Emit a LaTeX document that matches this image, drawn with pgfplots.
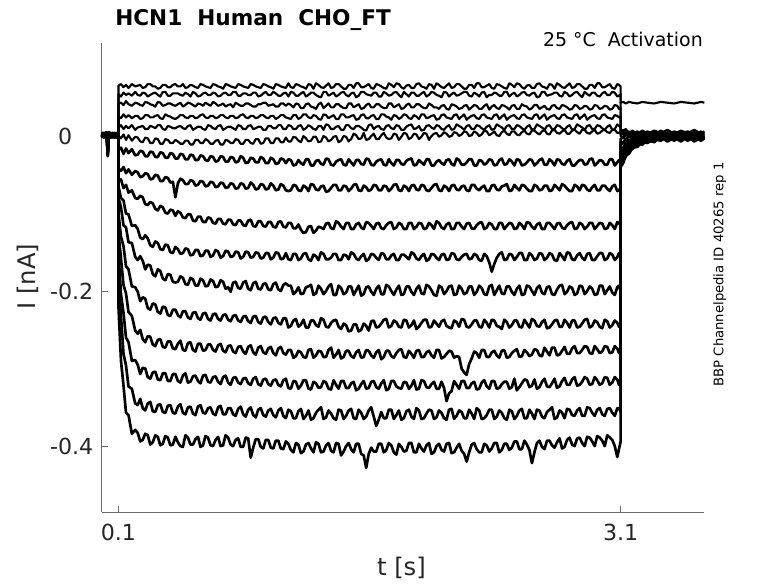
\documentclass[border=0pt]{standalone}
\usepackage{pgfplots}
\pgfplotsset{compat=1.18}
\usepackage{pgfplotstable}
\usepackage{fontspec}
\setmainfont{DejaVu Sans}
\definecolor{axisgray}{RGB}{105,105,105}
\definecolor{labelgray}{RGB}{38,38,38}

% current in pA, time in s
\pgfplotstableread{
t y1 y2 y3 y4 y5 y6 y7 y8 y9 y10 y11 y12 y13 y14 y15 y16
0.000 2 -1 3 0 -2 1 4 -1 2 0 3 -2 1 5 -1 2
0.012 -1 3 0 4 2 -2 1 3 -1 4 0 2 -2 1 3 0
0.024 3 0 -2 1 5 2 -1 0 4 1 -2 3 2 -1 0 4
0.030 0 2 4 -1 1 3 2 -2 1 3 5 0 -1 2 4 1
0.036 -8 -12 -6 -18 -22 -15 -25 -20 -10 -24 -17 -26 -14 -21 -19 -23
0.042 1 -2 3 2 -1 0 4 1 -2 3 0 2 5 -1 1 3
0.054 4 1 -1 3 0 2 -2 4 1 -1 2 0 3 1 -2 0
0.066 -2 3 1 0 4 -1 2 0 3 2 -1 4 0 3 1 -2
0.078 1 0 4 -2 2 3 0 2 -1 0 4 1 -2 2 3 1
0.090 3 -1 0 2 -1 1 3 -2 2 4 0 -1 2 0 -1 3
0.100 0 2 1 1 2 0 1 2 0 1 2 1 0 1 2 0
0.100 65 54 42 25 11 0 -18 -42 -57 -65 -80 -100 -125 -150 -180 -220
0.115 67 51 43 23 14 -3 -15 -45 -56 -80 -92 -130 -158 -204 -232 -290
0.130 63 56 40 28 9 2 -23 -40 -67 -83 -115 -142 -192 -228 -281 -322
0.145 66 53 45 24 13 -5 -16 -48 -63 -100 -118 -168 -203 -260 -296 -357
0.160 62 55 41 27 10 1 -22 -43 -73 -101 -137 -172 -227 -266 -323 -360
0.180 67 52 39 23 14 -6 -17 -50 -70 -116 -138 -194 -232 -290 -326 -384
0.200 64 57 43 26 8 -1 -25 -45 -80 -115 -156 -195 -251 -289 -345 -379
0.215 65 53 42 26 11 -2 -24 -47 -81 -120 -160 -201 -255 -295 -347 -383
0.230 66 52 40 22 12 -7 -19 -53 -77 -131 -155 -213 -250 -307 -339 -394
0.245 62 56 39 23 13 -8 -20 -52 -79 -133 -161 -208 -262 -299 -351 -392
0.260 63 55 44 27 9 -2 -26 -48 -88 -128 -172 -210 -266 -300 -354 -384
0.275 67 51 43 27 9 -3 -26 -49 -89 -132 -166 -222 -258 -311 -345 -386
0.290 67 53 41 24 13 -9 -20 -56 -85 -141 -167 -224 -259 -313 -343 -398
0.305 64 55 40 24 12 -9 -21 -55 -87 -143 -178 -216 -269 -305 -355 -395
0.320 64 56 38 26 10 -3 -27 -50 -94 -136 -181 -217 -271 -304 -356 -386
0.335 61 53 44 27 14 -4 -27 -51 -96 -138 -172 -227 -263 -314 -347 -388
0.350 62 51 43 23 14 -10 -21 -58 -90 -146 -174 -229 -262 -315 -346 -399
0.365 66 57 39 22 9 -10 -22 -58 -92 -147 -184 -220 -272 -306 -356 -397
0.380 66 57 40 28 8 -4 -28 -53 -99 -140 -186 -221 -273 -306 -357 -387
0.395 63 52 42 26 13 -5 -28 -54 -100 -141 -178 -231 -265 -316 -348 -389
0.410 63 52 42 25 12 -9 -22 -60 -95 -150 -179 -232 -265 -316 -347 -399
0.425 66 55 40 23 10 -9 -23 -59 -96 -151 -188 -224 -274 -307 -357 -398
0.440 67 55 39 22 10 -5 -29 -79 -103 -143 -189 -224 -275 -307 -358 -388
0.455 64 55 41 24 12 -7 -29 -61 -97 -146 -188 -231 -268 -316 -349 -395
0.470 64 53 43 27 13 -10 -23 -55 -99 -152 -181 -234 -264 -318 -346 -400
0.485 67 52 38 27 10 -10 -24 -57 -105 -151 -183 -226 -276 -309 -357 -401
0.500 62 56 40 24 9 -6 -30 -62 -106 -145 -191 -226 -277 -306 -359 -386
0.515 63 54 43 23 13 -6 -30 -62 -101 -146 -192 -234 -267 -318 -350 -389
0.530 66 51 42 26 14 -11 -24 -57 -101 -154 -183 -236 -266 -317 -349 -398
0.545 65 57 40 26 8 -11 -25 -58 -109 -153 -185 -228 -276 -310 -358 -398
0.560 63 55 38 23 10 -5 -31 -64 -110 -147 -193 -227 -278 -309 -360 -391
0.575 62 51 42 24 12 -5 -31 -63 -104 -147 -193 -235 -268 -316 -349 -388
0.590 67 52 41 27 12 -9 -25 -58 -104 -155 -184 -237 -268 -319 -347 -401
0.605 66 55 39 28 9 -9 -26 -59 -111 -154 -186 -229 -277 -309 -357 -399
0.620 64 56 43 24 8 -4 -31 -65 -111 -148 -194 -228 -276 -308 -358 -387
0.635 63 53 41 23 14 -6 -32 -64 -105 -148 -193 -236 -269 -317 -351 -389
0.650 62 53 39 26 13 -10 -26 -59 -106 -156 -185 -238 -269 -318 -350 -399
0.665 67 56 44 26 10 -10 -27 -60 -112 -154 -187 -230 -276 -311 -358 -400
0.680 66 55 42 23 9 -6 -33 -66 -113 -147 -195 -229 -278 -310 -360 -392
0.695 64 51 39 24 13 -5 -32 -65 -107 -149 -194 -236 -270 -317 -350 -388
0.710 63 52 40 27 14 -11 -26 -60 -107 -157 -186 -238 -268 -320 -348 -400
0.725 61 55 42 27 8 -11 -27 -61 -113 -155 -188 -231 -277 -311 -359 -399
0.740 67 56 38 24 10 -5 -33 -67 -114 -148 -197 -230 -279 -309 -359 -386
0.755 66 53 40 23 12 -6 -33 -66 -108 -149 -195 -237 -271 -318 -351 -389
0.770 64 53 41 26 12 -9 -27 -61 -108 -156 -201 -239 -270 -321 -351 -398
0.785 63 57 37 26 10 -9 -28 -62 -114 -155 -189 -232 -278 -312 -359 -400
0.800 62 57 43 23 8 -4 -34 -68 -115 -149 -188 -231 -280 -311 -361 -392
0.815 67 52 41 24 14 -5 -33 -67 -109 -150 -196 -238 -272 -318 -352 -390
0.830 66 52 39 27 13 -10 -26 -61 -109 -158 -197 -240 -271 -320 -349 -401
0.845 64 55 39 28 9 -10 -28 -62 -115 -156 -189 -233 -278 -313 -359 -401
0.860 63 55 42 24 9 -5 -35 -68 -116 -149 -187 -232 -281 -312 -362 -389
0.875 62 53 42 23 13 -5 -34 -67 -109 -150 -197 -239 -272 -319 -353 -390
0.890 67 53 40 26 14 -9 -28 -60 -108 -157 -199 -241 -270 -321 -350 -415
0.905 66 56 38 26 9 -10 -29 -63 -116 -156 -190 -233 -279 -313 -360 -402
0.920 64 56 38 23 10 -4 -34 -69 -117 -150 -188 -232 -282 -311 -363 -391
0.935 63 51 41 24 12 -4 -34 -68 -110 -151 -197 -240 -273 -320 -353 -391
0.950 62 52 41 27 12 -10 -27 -62 -110 -158 -198 -242 -271 -322 -351 -401
0.965 67 55 43 27 8 -9 -29 -63 -116 -157 -191 -234 -279 -314 -360 -403
0.980 66 57 43 24 8 -3 -35 -69 -117 -151 -190 -233 -281 -313 -362 -392
0.995 64 53 39 23 13 -3 -35 -68 -111 -151 -198 -240 -274 -320 -354 -392
1.010 63 53 40 26 13 -9 -28 -61 -111 -159 -199 -243 -272 -322 -352 -402
1.025 61 57 41 26 10 -9 -30 -64 -117 -157 -191 -235 -280 -315 -360 -403
1.040 67 55 38 22 10 -3 -36 -70 -118 -150 -189 -234 -283 -314 -363 -393
1.055 66 52 38 24 14 -3 -35 -69 -111 -151 -198 -241 -274 -321 -354 -393
1.070 64 52 42 27 14 -8 -29 -62 -110 -159 -200 -243 -272 -323 -351 -403
1.085 63 55 42 27 9 -8 -30 -64 -117 -158 -192 -235 -280 -315 -361 -404
1.100 62 56 39 24 9 -2 -35 -70 -118 -151 -190 -235 -282 -313 -364 -394
1.115 68 51 42 23 14 -7 -30 -71 -112 -159 -193 -247 -276 -325 -353 -397
1.130 63 57 40 22 13 -7 -31 -70 -112 -160 -193 -245 -276 -326 -355 -405
1.145 62 56 37 27 9 -1 -38 -63 -119 -152 -204 -238 -286 -316 -364 -408
1.160 67 52 42 27 9 -2 -37 -64 -119 -152 -201 -236 -284 -317 -364 -396
1.175 66 52 41 22 13 -6 -31 -70 -114 -160 -195 -246 -277 -326 -355 -398
1.190 64 55 36 24 14 -8 -35 -71 -121 -158 -204 -243 -279 -322 -352 -409
1.205 63 57 36 28 8 0 -37 -64 -125 -152 -203 -237 -285 -315 -365 -407
1.220 61 51 41 28 10 -3 -30 -66 -124 -151 -195 -247 -286 -315 -361 -398
1.235 67 53 42 24 14 -7 -30 -71 -117 -159 -194 -247 -276 -326 -354 -396
1.250 66 56 38 23 12 -6 -38 -62 -116 -161 -192 -238 -275 -327 -366 -403
1.265 61 56 37 27 9 -1 -38 -63 -125 -153 -205 -238 -286 -317 -364 -408
1.280 68 53 35 26 8 -1 -32 -69 -122 -155 -203 -244 -283 -319 -357 -395
1.295 66 51 41 22 13 -8 -31 -70 -117 -160 -193 -246 -277 -325 -353 -397
1.310 63 50 43 21 13 -7 -36 -65 -118 -150 -197 -235 -278 -324 -350 -408
1.325 62 57 36 28 8 0 -37 -64 -120 -152 -204 -237 -285 -316 -365 -407
1.340 65 57 39 27 15 -2 -29 -72 -113 -159 -200 -246 -285 -318 -363 -399
1.355 68 52 42 23 14 -7 -30 -71 -112 -159 -194 -247 -276 -326 -354 -396
1.370 62 54 37 25 9 -5 -37 -67 -119 -157 -191 -241 -273 -327 -358 -406
1.385 63 56 37 27 9 -1 -38 -63 -120 -152 -205 -238 -286 -315 -364 -408
1.400 67 51 41 22 12 0 -33 -63 -110 -152 -205 -237 -282 -321 -366 -396
1.415 67 53 41 22 13 -8 -31 -70 -112 -160 -193 -246 -276 -326 -353 -397
1.430 64 56 38 28 8 -6 -30 -70 -117 -160 -196 -249 -287 -316 -354 -412
1.445 61 57 36 28 8 0 -37 -64 -120 -153 -204 -242 -285 -316 -365 -407
1.460 61 53 36 24 14 -1 -38 -65 -112 -154 -202 -244 -277 -325 -361 -400
1.475 66 51 42 24 14 -7 -30 -71 -112 -159 -194 -252 -277 -325 -354 -396
1.490 66 55 42 26 10 -4 -34 -68 -120 -150 -194 -251 -284 -319 -352 -404
1.505 62 56 37 27 9 3 -38 -63 -120 -152 -205 -243 -286 -317 -364 -408
1.520 68 50 39 21 13 1 -31 -62 -114 -158 -199 -243 -279 -328 -365 -397
1.535 68 52 41 22 13 -4 -31 -70 -112 -160 -193 -252 -276 -326 -353 -397
1.550 63 57 35 27 11 -3 -36 -71 -118 -155 -206 -250 -286 -320 -357 -410
1.565 63 57 36 28 8 4 -37 -64 -120 -152 -204 -242 -285 -316 -365 -412
1.580 65 54 40 23 7 -5 -29 -66 -111 -161 -195 -245 -276 -326 -362 -428
1.595 67 53 42 23 14 -4 -30 -71 -112 -159 -194 -251 -277 -325 -354 -410
1.610 62 52 37 26 15 0 -37 -69 -116 -152 -201 -239 -283 -317 -350 -402
1.625 61 56 37 27 9 3 -38 -63 -120 -153 -205 -238 -286 -316 -362 -407
1.640 67 56 41 22 12 -4 -33 -64 -113 -157 -197 -247 -279 -324 -374 -407
1.655 66 51 41 22 13 -4 -31 -70 -112 -160 -193 -246 -276 -326 -366 -397
1.670 64 51 38 28 9 1 -30 -70 -119 -151 -204 -242 -288 -319 -356 -397
1.685 62 57 36 28 8 4 -37 -64 -120 -152 -204 -237 -285 -315 -364 -408
1.700 61 55 36 25 13 -2 -38 -65 -115 -159 -192 -236 -277 -328 -364 -405
1.715 68 52 42 24 14 -4 -30 -71 -112 -159 -194 -247 -277 -326 -353 -396
1.730 66 53 42 21 10 -3 -35 -68 -111 -154 -200 -245 -284 -316 -353 -399
1.745 63 56 37 27 9 3 -38 -63 -120 -152 -205 -238 -286 -316 -365 -408
1.760 68 57 39 26 14 2 -31 -62 -118 -160 -198 -240 -280 -323 -360 -411
1.775 67 53 41 22 13 -5 -31 -70 -112 -160 -193 -246 -276 -325 -354 -397
1.790 63 50 35 24 8 -1 -36 -71 -114 -153 -205 -247 -275 -326 -366 -401
1.805 61 57 36 28 8 4 -37 -64 -120 -153 -204 -237 -285 -317 -364 -407
1.820 65 54 40 27 12 3 -32 -66 -120 -156 -194 -238 -286 -318 -355 -406
1.835 66 51 42 23 14 -4 -30 -71 -112 -159 -194 -247 -277 -326 -353 -396
1.850 62 56 37 22 15 -2 -29 -64 -112 -150 -201 -244 -281 -322 -362 -396
1.865 62 56 37 27 9 3 -38 -63 -120 -152 -205 -238 -286 -315 -365 -408
1.880 67 52 41 25 10 2 -37 -69 -117 -158 -197 -249 -277 -327 -351 -408
1.895 68 52 41 22 13 -4 -31 -70 -112 -160 -193 -246 -276 -326 -354 -397
1.910 64 55 38 28 7 -1 -34 -63 -113 -155 -203 -241 -285 -315 -365 -403
1.925 63 57 36 28 8 4 -37 -64 -120 -152 -204 -237 -285 -316 -364 -407
1.940 61 51 36 23 13 3 -30 -70 -119 -161 -192 -237 -279 -324 -358 -399
1.955 67 53 42 24 14 -5 -30 -71 -112 -159 -194 -247 -277 -325 -353 -396
1.970 66 57 40 26 11 0 -38 -67 -115 -152 -199 -246 -283 -320 -354 -410
1.985 61 56 37 27 9 3 -38 -63 -120 -153 -205 -238 -286 -317 -365 -408
2.000 68 53 37 21 14 4 -33 -62 -110 -157 -206 -242 -276 -326 -363 -400
2.015 66 52 35 22 13 -1 -31 -70 -112 -160 -193 -246 -276 -326 -354 -397
2.030 63 50 39 27 9 1 -35 -71 -118 -153 -195 -239 -287 -317 -357 -405
2.045 62 57 40 28 8 5 -37 -64 -120 -152 -204 -237 -285 -325 -364 -407
2.060 65 56 35 24 12 3 -31 -66 -114 -160 -200 -245 -281 -342 -366 -397
2.075 68 51 34 23 14 -1 -30 -71 -112 -159 -194 -247 -277 -332 -353 -396
2.090 62 54 41 22 8 0 -36 -64 -120 -151 -193 -248 -278 -329 -352 -409
2.105 63 56 40 27 9 5 -38 -63 -120 -152 -205 -238 -286 -316 -365 -408
2.120 67 52 38 28 15 4 -29 -69 -112 -159 -204 -240 -284 -321 -361 -402
2.135 67 53 35 22 13 0 -31 -70 -112 -160 -193 -246 -285 -326 -354 -397
2.150 64 55 36 25 11 2 -37 -65 -117 -156 -197 -236 -300 -316 -356 -406
2.165 61 57 39 28 8 6 -37 -64 -120 -153 -204 -237 -305 -316 -364 -410
2.180 61 57 40 21 13 5 -34 -70 -113 -152 -202 -246 -308 -325 -364 -420
2.195 66 52 34 24 14 0 -30 -71 -112 -159 -194 -247 -294 -325 -353 -408
2.210 66 51 37 26 9 1 -30 -63 -119 -158 -194 -243 -287 -319 -358 -398
2.225 62 56 40 27 9 6 -38 -63 -120 -152 -205 -238 -278 -317 -365 -396
2.240 68 54 39 23 14 4 -38 -68 -115 -154 -201 -238 -280 -327 -351 -404
2.255 68 51 35 22 13 0 -31 -70 -112 -160 -193 -246 -286 -326 -354 -408
2.270 63 56 35 27 10 2 -32 -66 -111 -161 -196 -247 -276 -318 -365 -408
2.285 63 57 39 28 8 7 -37 -64 -120 -152 -204 -237 -276 -315 -364 -397
2.300 65 50 41 24 12 6 -35 -71 -118 -155 -205 -241 -285 -323 -360 -399
2.315 67 53 34 23 14 1 -30 -71 -112 -163 -194 -247 -285 -326 -353 -407
2.330 62 53 38 22 8 3 -31 -64 -114 -175 -192 -237 -279 -316 -353 -403
2.345 61 56 40 27 9 6 -38 -63 -120 -165 -205 -238 -277 -316 -365 -396
2.360 67 55 36 28 15 1 -37 -69 -120 -157 -199 -245 -283 -326 -362 -396
2.375 66 52 35 22 13 0 -31 -70 -112 -152 -193 -246 -286 -325 -354 -408
2.390 64 52 40 25 11 5 -29 -65 -112 -150 -203 -249 -277 -320 -357 -405
2.405 62 57 39 28 8 7 -37 -64 -120 -160 -204 -237 -276 -317 -364 -397
2.420 61 57 37 21 13 3 -36 -62 -116 -159 -194 -240 -286 -317 -366 -397
2.435 68 51 34 24 14 1 -30 -71 -112 -152 -194 -247 -285 -326 -353 -405
2.450 66 54 39 26 9 6 -33 -70 -113 -153 -201 -244 -280 -324 -355 -402
2.465 63 56 40 27 9 6 -38 -63 -120 -160 -205 -238 -277 -313 -365 -394
2.480 68 51 35 23 14 2 -30 -67 -119 -156 -197 -238 -275 -328 -361 -394
2.495 67 53 35 22 13 1 -31 -70 -112 -151 -193 -246 -285 -324 -354 -404
2.510 63 56 41 27 10 5 -38 -63 -115 -151 -205 -247 -284 -319 -352 -404
2.525 61 57 39 28 8 7 -37 -64 -120 -160 -204 -237 -276 -314 -364 -393
2.540 65 53 38 24 12 3 -34 -68 -111 -160 -193 -242 -279 -315 -364 -398
2.555 66 52 34 23 14 2 -30 -71 -112 -151 -194 -247 -284 -324 -353 -405
2.570 62 55 36 22 8 7 -31 -71 -117 -154 -200 -236 -282 -322 -358 -422
2.585 62 56 40 27 9 7 -38 -63 -120 -160 -205 -238 -275 -314 -365 -408
2.600 67 50 40 28 15 4 -35 -65 -114 -158 -196 -245 -276 -326 -353 -396
2.615 68 51 35 22 13 2 -31 -70 -112 -151 -193 -246 -283 -324 -354 -393
2.630 64 57 37 25 11 6 -29 -69 -120 -152 -202 -240 -284 -317 -362 -401
2.645 63 57 39 28 8 8 -37 -64 -120 -160 -204 -237 -273 -313 -364 -404
2.660 61 52 35 21 13 3 -37 -64 -112 -157 -195 -248 -278 -323 -356 -393
2.675 67 53 34 24 14 2 -30 -71 -112 -151 -194 -247 -283 -324 -353 -393
2.690 66 54 39 26 9 7 -33 -70 -116 -153 -204 -243 -273 -319 -350 -399
2.705 61 56 40 27 9 8 -38 -63 -120 -160 -205 -238 -273 -313 -365 -402
2.720 68 56 36 23 14 4 -30 -66 -113 -161 -198 -237 -283 -325 -363 -395
2.735 66 52 35 22 13 3 -31 -70 -112 -151 -193 -246 -282 -323 -354 -390
2.750 63 51 40 27 10 6 -36 -62 -118 -155 -192 -246 -277 -316 -357 -403
2.765 62 57 39 28 8 8 -37 -64 -120 -160 -204 -237 -272 -312 -364 -401
2.780 65 55 37 24 12 3 -32 -68 -115 -150 -201 -241 -281 -321 -352 -392
2.795 68 51 34 23 14 3 -30 -71 -112 -151 -194 -247 -281 -321 -353 -389
2.810 62 53 35 22 8 7 -38 -71 -111 -159 -196 -238 -274 -314 -360 -398
2.825 63 56 40 27 9 8 -38 -63 -120 -160 -205 -238 -271 -311 -361 -400
2.840 67 57 39 28 15 5 -34 -65 -119 -154 -203 -247 -280 -322 -354 -390
2.855 67 53 35 22 13 3 -31 -70 -112 -151 -193 -246 -280 -321 -351 -389
2.870 64 50 36 25 11 8 -31 -63 -114 -157 -194 -242 -276 -317 -361 -396
2.885 61 57 39 28 8 8 -37 -64 -120 -160 -204 -237 -271 -311 -361 -400
2.900 61 54 38 21 13 4 -36 -69 -117 -152 -200 -236 -272 -313 -350 -388
2.915 66 52 34 24 14 3 -30 -71 -112 -151 -194 -247 -280 -321 -351 -389
2.930 66 56 35 26 9 6 -29 -66 -112 -160 -197 -245 -281 -320 -357 -394
2.945 62 56 40 27 9 8 -38 -63 -120 -160 -205 -238 -271 -311 -361 -400
2.960 68 52 39 23 14 3 -35 -70 -116 -155 -204 -240 -275 -315 -353 -387
2.975 68 51 35 22 13 4 -31 -70 -112 -151 -193 -246 -280 -321 -351 -389
2.990 63 55 36 27 10 7 -32 -64 -113 -151 -193 -248 -278 -319 -359 -393
3.005 63 57 39 28 8 8 -37 -64 -120 -160 -204 -237 -271 -311 -361 -400
3.020 65 53 38 24 12 5 -37 -68 -119 -158 -199 -239 -272 -312 -352 -386
3.035 67 53 34 23 14 4 -30 -71 -112 -151 -194 -247 -280 -321 -351 -389
3.050 62 57 35 22 8 8 -30 -65 -115 -153 -202 -244 -279 -318 -357 -392
3.065 61 56 40 27 9 8 -38 -63 -120 -160 -205 -238 -271 -311 -361 -400
3.080 67 51 39 26 15 4 -34 -71 -111 -156 -195 -241 -274 -314 -351 -414
3.090 66 52 35 24 13 4 -31 -70 -112 -151 -193 -246 -280 -321 -351 -404
3.100 64 54 37 25 11 6 -33 -67 -116 -154 -200 -243 -277 -317 -356 -394
3.100 43 8 6 4 2 0 -4 -8 -12 -16 -20 -24 -28 -32 -36 -40
3.115 44 6 8 2 4 -2 -1 -9 -8 -15 -18 -22 -21 -28 -31 -35
3.130 42 9 3 5 0 3 -5 -4 -10 -9 -16 -14 -21 -20 -27 -25
3.150 44 4 6 1 4 -1 0 -6 -5 -10 -9 -15 -13 -19 -18 -23
3.170 43 7 2 5 -1 3 -3 -2 -8 -5 -11 -8 -14 -11 -17 -15
3.200 42 3 6 1 4 -2 1 -5 -2 -7 -5 -9 -7 -11 -10 -14
3.230 44 7 2 5 0 3 -3 0 -6 -1 -8 -3 -9 -5 -11 -7
3.260 43 3 6 0 4 -1 2 -4 0 -5 -3 -6 -4 -8 -5 -9
3.300 42 7 2 5 -1 4 -2 1 -5 1 -6 -1 -7 -2 -8 -4
3.340 44 4 7 1 4 -1 2 -3 1 -3 0 -5 0 -5 -1 -6
3.380 43 8 2 5 0 3 -2 2 -4 2 -5 1 -6 1 -7 -1
3.420 42 3 6 1 4 -1 3 -3 1 -4 0 -4 0 -5 -2 -6
3.460 44 7 3 5 0 4 -2 1 -5 1 -6 1 -6 1 -7 0
3.500 43 4 6 1 3 -1 2 -4 0 -4 0 -5 -1 -4 -1 -6
3.540 42 8 2 5 0 3 -2 1 -5 2 -5 0 -6 1 -7 -1
3.580 44 3 6 2 4 -1 2 -3 0 -4 -1 -5 0 -5 -2 -6
3.600 43 6 4 3 2 1 0 -1 -2 -1 -3 -2 -3 -2 -4 -3
}\traces

\begin{document}
\begin{tikzpicture}
\begin{axis}[
  at={(76.3pt,53.25pt)}, anchor=south west,
  scale only axis, width=451.95pt, height=351.75pt,
  xmin=0, xmax=3.6, ymin=-485, ymax=120,
  axis x line*=bottom, axis y line*=left,
  axis line style={-, draw=axisgray, line width=0.6pt},
  xtick={0.1,3.1}, xticklabels={0.1,3.1},
  ytick={-400,-200,0}, yticklabels={-0.4,-0.2,0\phantom{.0}},
  tick align=inside, major tick length=4.5pt,
  tick style={draw=axisgray, line width=0.6pt},
  ticklabel style={font=\fontsize{16.6}{18}\selectfont, text=labelgray},
  xticklabel style={yshift=-5.8pt},
  yticklabel style={xshift=-2.8pt},
  clip=false,
]
\pgfplotsinvokeforeach{1,...,6}{
  \addplot[black, line width=1.6pt, line join=round, mark=none] table[x=t, y=y#1] {\traces};
}
\pgfplotsinvokeforeach{7,...,16}{
  \addplot[black, line width=2.0pt, line join=round, mark=none] table[x=t, y=y#1] {\traces};
}
\end{axis}
\node[anchor=base west, inner sep=0pt, font=\bfseries\fontsize{16.2}{18}\selectfont] at (86.25pt,417.75pt) {HCN1\ \ Human\ \ CHO\_FT};
\node[anchor=base east, inner sep=0pt, font=\fontsize{14.2}{16}\selectfont] at (527.25pt,402pt) {25 °C\ \ Activation};
\node[rotate=90, anchor=base, inner sep=0pt, font=\fontsize{9.9}{11}\selectfont] at (542.5pt,231.4pt) {BBP Channelpedia ID 40265 rep 1};
\node[inner sep=0pt, text=labelgray, font=\fontsize{18.2}{20}\selectfont] at (301.1pt,11.25pt) {t [s]};
\node[rotate=90, inner sep=0pt, text=labelgray, font=\fontsize{18.2}{20}\selectfont] at (20.6pt,229.9pt) {I [nA]};
\pgfresetboundingbox
\useasboundingbox (0,0) rectangle (583.5pt,437.25pt);
\end{tikzpicture}
\end{document}
